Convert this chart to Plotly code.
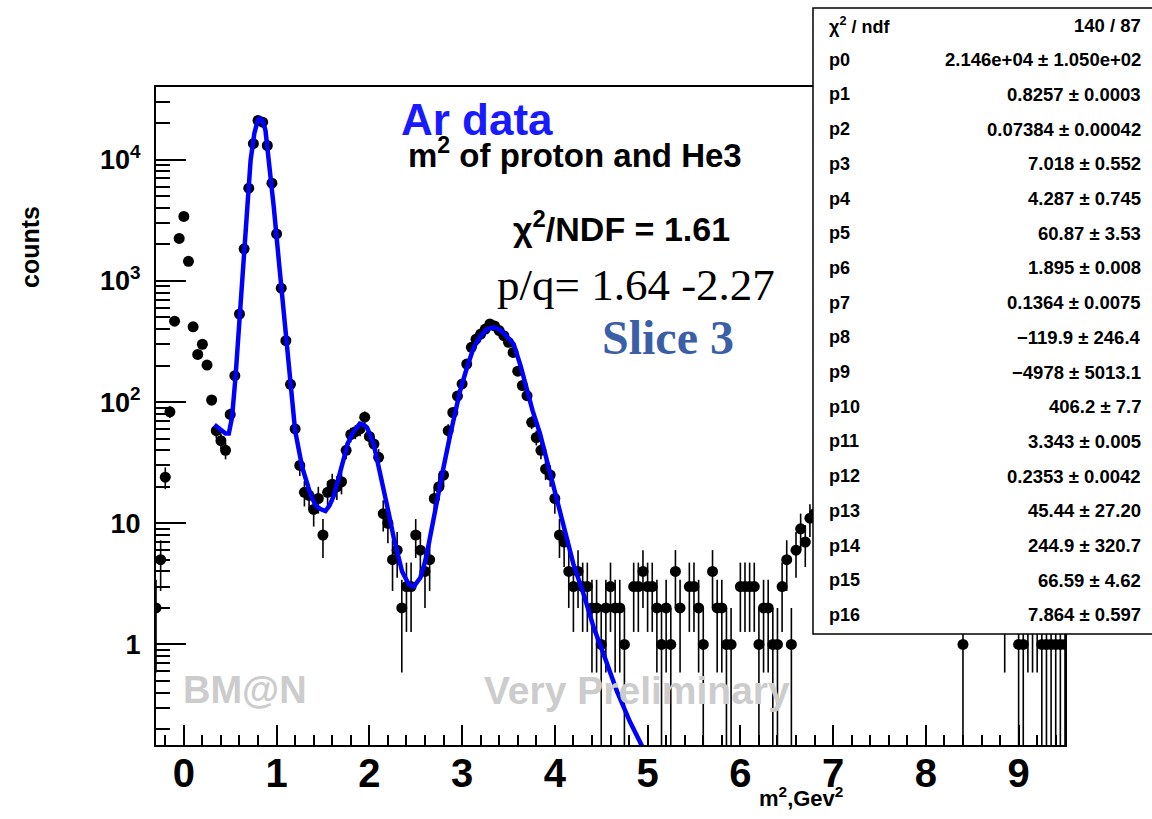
import math
import plotly.graph_objects as go

# ---------------- data ----------------
# histogram: first bin centre and bin width (m^2, GeV^2), counts per bin
first_bin_center = -0.30
bin_width = 0.05
counts = [
    2, 5, 24, 83, 465, 2240, 3400, 1450, 418, 247,          # -0.30 .. 0.15
    300, 202, 104, 58, 48, 40, 79, 165, 533, 1840,          # 0.20 .. 0.65
    5820, 13550, 21100, 20400, 13100, 6400, 2440, 870, 321, 140,  # 0.70 .. 1.15
    60, 30, 18, 17, 13, 16, 8, 18, 21, 20,                  # 1.20 .. 1.65
    22, 40, 54, 57, 60, 75, 52, 45, 35, 12,                 # 1.70 .. 2.15
    10, 5, 6, 2, 3, 3, 8, 6, 4, 5,                          # 2.20 .. 2.65
    16, 20, 25, 58, 82, 112, 141, 206, 283, 330,            # 2.70 .. 3.15
    364, 400, 441, 425, 389, 353, 311, 257, 180, 137,       # 3.20 .. 3.65
    113, 68, 51, 40, 28, 25, 16, 8, 7, 4,                   # 3.70 .. 4.15
    3, 4, 3, 3, 2, 2, 1, 2, 3, 2,                           # 4.20 .. 4.65
    2, 1, 0, 3, 3, 4, 3, 3, 2, 1,                           # 4.70 .. 5.15
    2, 1, 4, 2, 0, 3, 3, 2, 1, 0,                           # 5.20 .. 5.65
    4, 2, 2, 1, 1, 0, 3, 3, 3, 3,                           # 5.70 .. 6.15
    1, 2, 2, 1, 1, 3, 5, 1, 6, 9,                           # 6.20 .. 6.65
    7, 11, 12, 14, 13, 17, 19, 22, 26, 29,                  # 6.70 .. 7.15
    31, 36, 38, 43, 45, 50, 52, 57, 58, 62,                 # 7.20 .. 7.65
    63, 66, 65, 68, 64, 61, 58, 52, 47, 39,                 # 7.70 .. 8.15
    30, 21, 12, 0, 1, 0, 0, 0, 0, 0,                        # 8.20 .. 8.65
    0, 0, 0, 2, 0, 0, 1, 1, 2, 2,                           # 8.70 .. 9.15
    2, 1, 1, 1, 1, 1, 1,                                    # 9.20 .. 9.50
]

# fitted curve
fit_m2 = [0.33, 0.40, 0.45, 0.485, 0.52, 0.557, 0.60, 0.64, 0.68, 0.72,
          0.76, 0.80, 0.825, 0.85, 0.88, 0.916, 0.97, 1.024, 1.078, 1.13,
          1.168, 1.20, 1.276, 1.365, 1.42, 1.473, 1.527, 1.57, 1.616, 1.67,
          1.72, 1.77, 1.815, 1.86, 1.897, 1.94, 1.976, 2.047, 2.10, 2.155,
          2.21, 2.263, 2.31, 2.353, 2.425, 2.478, 2.55, 2.60, 2.64, 2.712,
          2.76, 2.80, 2.874, 2.93, 2.98, 3.05, 3.125, 3.20, 3.27, 3.34,
          3.41, 3.48, 3.556, 3.63, 3.70, 3.76, 3.84, 3.92, 3.99, 4.095,
          4.20, 4.31, 4.42, 4.526, 4.67, 4.81, 4.95, 5.05]
fit_counts = [65, 58, 55, 55, 75, 160, 500, 1150, 3200, 9900,
              16500, 21500, 21800, 21000, 17500, 9900, 4060, 1470, 533, 206,
              116, 58, 29, 17.4, 14, 13.1, 12.6, 14, 16.8, 24,
              35, 46, 54.5, 62, 66.5, 65, 61.6, 45, 30, 19.7,
              12, 7.6, 5.3, 4.0, 3.13, 3.0, 3.55, 4.8, 6.7, 13.5,
              20, 29, 54.5, 85, 125, 190, 282, 350, 400, 414,
              395, 350, 301, 200, 125, 85, 55, 32, 20, 9.5,
              4.6, 2.6, 1.37, 0.83, 0.41, 0.23, 0.14, 0.11]

x_tick_values = [0, 1, 2, 3, 4, 5, 6, 7, 8, 9]
x_tick_labels = ["0", "1", "2", "3", "4", "5", "6", "7", "8", "9"]
y_tick_values = [1, 10, 100, 1000, 10000]
y_tick_labels = ["1", "10", "10<sup>2</sup>", "10<sup>3</sup>", "10<sup>4</sup>"]

stat_names = ["χ<sup>2</sup> / ndf", "p0", "p1", "p2", "p3", "p4", "p5", "p6", "p7",
              "p8", "p9", "p10", "p11", "p12", "p13", "p14", "p15", "p16"]
stat_values = ["140 / 87", "2.146e+04 ± 1.050e+02", "0.8257 ± 0.0003",
               "0.07384 ± 0.00042", "7.018 ± 0.552", "4.287 ± 0.745",
               "60.87 ± 3.53", "1.895 ± 0.008", "0.1364 ± 0.0075",
               "−119.9 ± 246.4", "−4978 ± 5013.1", "406.2 ± 7.7",
               "3.343 ± 0.005", "0.2353 ± 0.0042", "45.44 ± 27.20",
               "244.9 ± 320.7", "66.59 ± 4.62", "7.864 ± 0.597"]

# ---------------- build traces ----------------
bx, by, eup, edn = [], [], [], []
for i, n in enumerate(counts):
    if n <= 0:
        continue
    bx.append(round(first_bin_center + i * bin_width, 4))
    by.append(n)
    s = math.sqrt(n)
    eup.append(s)
    edn.append(min(s, n * 0.999))

W, H = 1152, 819
L, R, T, B = 156, 1065, 87, 745
SANS = "Liberation Sans, Arial, Helvetica, sans-serif"
SERIF = "Liberation Serif, Times New Roman, serif"


def pxx(p):
    return (p - L) / (R - L)


def pxy(p):
    return (B - p) / (B - T)


fig = go.Figure()
fig.add_trace(go.Scatter(
    x=bx, y=by, mode="markers",
    marker=dict(symbol="circle", size=11, color="black", line=dict(width=0)),
    error_y=dict(type="data", symmetric=False, array=eup, arrayminus=edn,
                 color="black", thickness=1.6, width=0),
    showlegend=False, cliponaxis=True, hoverinfo="skip",
))
fig.add_trace(go.Scatter(
    x=fit_m2, y=fit_counts, mode="lines",
    line=dict(color="#0000ff", width=4.5),
    showlegend=False, cliponaxis=True, hoverinfo="skip",
))

minor_y = [m * 10 ** e for e in range(-1, 5) for m in range(2, 10)]

fig.update_layout(
    width=W, height=H,
    margin=dict(l=L, r=W - R, t=T, b=H - B, pad=0),
    paper_bgcolor="white", plot_bgcolor="white",
    showlegend=False,
    xaxis=dict(
        range=[-0.3, 9.5], showgrid=False, zeroline=False,
        showline=True, linecolor="black", linewidth=2, mirror=True,
        ticks="inside", ticklen=20, tickwidth=2, tickcolor="black",
        tickmode="array", tickvals=x_tick_values, ticktext=x_tick_labels,
        tickfont=dict(family=SANS, size=40, color="black", weight="bold"),
        ticklabelstandoff=-8,
        minor=dict(ticks="inside", ticklen=10, tickwidth=2, tickcolor="black",
                   dtick=0.2, tick0=0, showgrid=False),
    ),
    yaxis=dict(
        type="log", range=[-0.83, 4.6], showgrid=False, zeroline=False,
        showline=True, linecolor="black", linewidth=2, mirror=True,
        ticks="inside", ticklen=30, tickwidth=2, tickcolor="black",
        tickmode="array", tickvals=y_tick_values, ticktext=y_tick_labels,
        tickfont=dict(family=SANS, size=27, color="black", weight="bold"),
        ticklabelstandoff=8,
        minor=dict(ticks="inside", ticklen=14, tickwidth=2, tickcolor="black",
                   tickmode="array", tickvals=minor_y, showgrid=False),
    ),
)

ann = []


def add_text(text, cx, cy, size, color="black", family=SANS, bold=True,
             xanchor="center", yanchor="middle", angle=0):
    ann.append(dict(
        text=text, x=pxx(cx), y=pxy(cy), xref="paper", yref="paper",
        xanchor=xanchor, yanchor=yanchor, showarrow=False, textangle=angle,
        font=dict(family=family, size=size, color=color,
                  weight="bold" if bold else "normal"),
    ))


# watermark texts
add_text("BM@N", 245, 690, 38, color="#cccccc")
add_text("Very Preliminary", 637, 690, 39, color="#cccccc")

# titles & annotations
add_text("Ar data", 477, 119, 44, color="#1a1aff")
add_text("m<sup>2</sup> of proton and He3", 575, 153, 33)
add_text("χ<sup>2</sup>/NDF = 1.61", 621, 226, 34)
add_text("p/q= 1.64 -2.27", 636, 285, 45, family=SERIF, bold=False)
add_text("Slice 3", 668, 337, 48, color="#3a5ea8", family=SERIF)

# axis titles
add_text("counts", 30, 247, 25, angle=-90)
add_text("m<sup>2</sup>,Gev<sup>2</sup>", 801, 797, 22)

# stats box text
for i, (nm, val) in enumerate(zip(stat_names, stat_values)):
    yc = 25 + 34.7 * i
    add_text(nm, 827, yc, 18, xanchor="left")
    add_text(val, 1143, yc, 18.5, xanchor="right")

fig.update_layout(annotations=ann)

# stats box
fig.add_shape(type="rect", xref="paper", yref="paper",
              x0=pxx(813), x1=pxx(1170), y0=pxy(634), y1=pxy(8),
              line=dict(color="black", width=1.5), fillcolor="white",
              layer="above")

fig.write_html(
    "out.html",
    config={"displayModeBar": False},
    post_script="document.body.style.margin='0px';"
                "document.body.style.padding='0px';"
                "document.body.style.overflow='hidden';",
)
